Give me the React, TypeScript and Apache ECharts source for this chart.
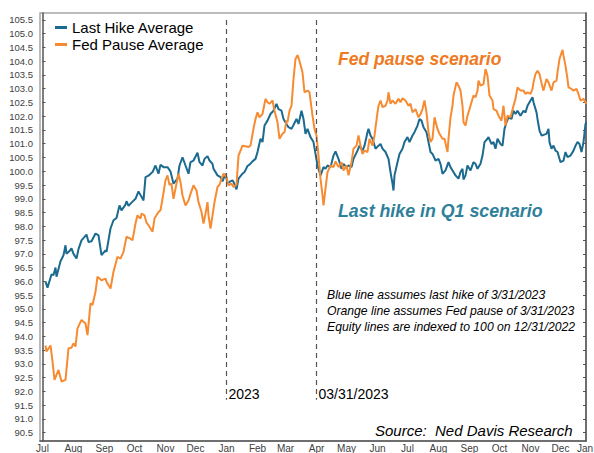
import React, { useEffect, useRef } from 'react';
import * as echarts from 'echarts';

// Day offsets counted from Jul 1 2022 (day 0)
const lastHikeDays = [3,5,9,11,13,14,18,21,23,24,27,29,31,34,36,39,44,46,49,53,56,59,63,64,68,71,74,77,79,83,84,86,89,93,96,99,101,103,106,110,113,116,118,121,125,128,131,135,137,140,143,146,148,151,155,157,160,162,165,167,170,171,175,178,180,183,185,187,190,191,194,196,200,202,205,207,210,213,215,218,220,222,225,228,231,234,236,239,241,244,246,249,251,254,256,259,261,263,265,268,271,273,275,278,281,283,285,288,291,293,296,299,301,304,306,309,311,315,317,320,322,325,326,328,330,333,336,338,340,343,346,348,350,351,352,355,357,360,362,365,367,370,372,375,377,379,381,384,386,388,390,393,396,398,400,403,406,408,410,413,416,418,420,421,423,425,428,431,433,435,438,440,442,445,446,449,451,453,455,458,460,462,464,466,469,471,473,475,478,481,483,485,488,490,491,494,495,497,499,501,504,506,507,509,511,513,515,518,521,523,525,528,531,533,535,537,539,541,543,544];
const lastHikeValues = [96.0,95.77,96.25,96.23,96.5,96.17,96.73,96.95,97.31,97.0,97.1,97.2,97.0,96.83,97.17,97.49,97.7,97.43,97.46,97.74,97.67,96.95,97.13,97.07,97.92,98.22,98.3,98.76,98.58,98.79,98.91,98.74,98.86,99.0,99.27,99.07,98.94,99.79,99.84,99.97,100.21,99.91,100.24,100.15,100.15,99.99,99.55,99.73,100.21,100.51,100.21,99.91,100.33,100.39,100.67,100.33,100.21,100.45,100.55,100.39,100.27,100.09,99.85,99.79,99.63,99.91,99.55,99.61,99.67,99.61,99.34,99.73,99.91,99.97,100.19,100.24,100.36,100.45,100.7,101.18,101.06,101.66,101.84,102.08,102.2,102.45,102.26,102.2,101.9,101.72,101.6,101.54,101.68,101.9,101.72,102.2,101.9,101.36,101.54,101.24,101.06,100.63,100.21,99.85,100.15,100.09,100.21,100.15,100.57,100.72,100.45,100.09,100.27,100.15,100.21,100.15,100.45,100.75,100.93,100.75,100.93,101.42,101.54,101.3,101.18,100.82,100.93,100.99,100.82,100.7,100.45,99.97,99.55,99.3,99.85,100.33,100.63,100.82,101.06,101.24,101.06,101.3,101.42,101.66,101.9,101.84,101.6,101.42,101.06,100.7,100.63,100.39,100.45,100.27,99.91,100.03,100.33,100.15,100.03,99.85,99.73,99.97,100.09,99.7,99.85,100.21,100.03,100.33,100.27,100.09,100.27,100.57,101.06,101.18,101.24,100.99,101.06,100.82,101.18,100.99,100.93,101.54,101.78,101.96,101.9,102.2,102.08,102.2,102.02,102.2,102.14,102.38,102.57,102.69,102.51,102.14,101.9,101.48,101.3,101.32,101.36,101.54,101.06,100.82,100.93,100.75,100.7,100.33,100.39,100.7,100.51,100.57,100.75,100.93,101.06,100.99,100.7,101.06,101.72,101.78];

const fedPauseDays = [3,4,8,10,12,14,16,19,23,26,29,31,33,35,39,43,45,48,50,53,55,59,63,64,68,71,75,78,81,84,88,90,93,95,98,99,102,104,106,110,112,116,118,120,123,125,127,129,131,134,136,138,140,143,146,148,151,154,156,159,161,163,165,166,168,170,172,175,177,179,181,184,186,189,191,194,196,200,203,206,208,211,213,215,217,220,223,225,227,230,232,235,237,240,242,244,245,247,249,251,253,255,257,260,262,265,267,270,272,274,276,278,280,281,283,285,288,291,293,296,299,301,304,306,309,311,314,316,318,320,322,325,327,330,332,335,336,338,340,343,345,346,348,350,353,356,358,360,363,366,368,370,373,376,378,380,382,384,386,388,390,392,395,397,400,402,405,406,408,410,411,414,416,418,420,421,423,425,428,431,433,435,436,438,441,443,445,447,450,451,454,456,459,461,463,465,468,471,473,475,478,481,483,485,488,490,491,493,495,497,500,501,504,506,509,511,514,515,517,520,521,523,525,526,529,531,534,536,538,541,543,544];
const fedPauseValues = [93.67,93.45,93.67,93.09,92.42,92.6,92.78,92.36,92.42,93.57,93.59,93.75,93.63,94.29,94.6,94.47,94.05,95.2,95.14,95.62,96.17,96.04,96.1,95.99,95.74,96.35,96.89,96.83,97.07,97.62,97.55,97.49,98.1,98.4,98.28,98.46,98.4,98.13,98.04,97.8,98.28,98.52,98.58,99.0,99.67,99.85,99.51,99.55,99.0,99.55,99.91,99.61,99.12,98.76,98.94,99.18,99.49,99.3,98.88,98.52,98.1,98.46,98.88,98.4,97.92,98.4,98.88,99.43,99.51,99.73,99.91,99.79,99.49,99.55,99.43,99.51,100.57,100.93,100.91,100.88,100.93,101.55,101.9,102.14,101.96,102.08,102.63,102.51,102.45,102.57,102.2,101.78,101.18,101.36,101.42,101.84,101.78,102.2,102.38,103.35,104.08,104.22,104.01,103.59,102.87,102.93,102.87,102.02,101.54,101.3,100.57,99.73,99.12,98.76,99.37,99.97,100.21,100.15,100.36,100.15,100.33,100.03,100.21,99.85,100.33,100.82,100.93,101.3,100.93,100.63,100.75,100.7,101.18,100.93,101.3,102.14,102.38,102.57,102.33,102.38,102.57,102.87,102.45,102.57,102.45,102.63,102.51,102.65,102.57,102.38,102.45,102.14,102.26,101.96,102.08,102.26,102.57,102.14,101.42,101.06,101.18,101.96,101.54,101.36,101.18,101.18,100.7,101.18,101.96,102.38,102.75,103.23,103.11,102.93,102.38,101.78,101.66,102.02,102.38,102.75,102.69,102.93,103.29,103.11,103.17,103.71,103.47,102.75,102.57,102.26,102.2,102.02,101.84,102.38,101.66,102.02,101.96,102.38,102.63,103.05,102.93,102.93,102.81,102.87,102.81,102.99,103.23,103.53,103.65,103.53,103.05,102.93,103.35,103.23,102.93,103.23,103.29,103.59,104.08,104.41,104.2,103.83,103.35,103.05,102.99,102.93,102.99,102.81,102.57,102.63,102.51,102.45];

const monthTicks = ['2022-07-01','2022-08-01','2022-09-01','2022-10-01','2022-11-01','2022-12-01','2023-01-01','2023-02-01','2023-03-01','2023-04-01','2023-05-01','2023-06-01','2023-07-01','2023-08-01','2023-09-01','2023-10-01','2023-11-01','2023-12-01'];
const monthLabels = ['Jul','Aug','Sep','Oct','Nov','Dec','Jan','Feb','Mar','Apr','May','Jun','Jul','Aug','Sep','Oct','Nov','Dec'];
const yTicks = [90.5,91.0,91.5,92.0,92.5,93.0,93.5,94.0,94.5,95.0,95.5,96.0,96.5,97.0,97.5,98.0,98.5,99.0,99.5,100.0,100.5,101.0,101.5,102.0,102.5,103.0,103.5,104.0,104.5,105.0,105.5];
const markerDates = ['2023-01-01','2023-04-01'];
const markerLabels = ['2023','03/31/2023'];
const noteLines = ['Blue line assumes last hike of 3/31/2023','Orange line assumes Fed pause of 3/31/2023','Equity lines are indexed to 100 on 12/31/2022'];

const BLUE = '#1B6A8F';
const ORANGE = '#F78B32';
const SANS = "'Liberation Sans', Arial, sans-serif";
const NARROW = "'Liberation Sans Narrow', 'Liberation Sans', Arial, sans-serif";

function dateToDay(s: string) {
  const [y, m, d] = s.split('-').map(Number);
  return Math.round((Date.UTC(y, m - 1, d) - Date.UTC(2022, 6, 1)) / 86400000);
}

export default function App() {
  const ref = useRef<HTMLDivElement>(null);
  useEffect(() => {
    document.body.style.margin = '0';
    const chart = echarts.init(ref.current!, null, { renderer: 'svg' });
    const tickDays = monthTicks.map(dateToDay);
    chart.setOption({
      animation: false,
      backgroundColor: '#fff',
      grid: { left: 40, right: 8, top: 13, bottom: 10, show: true, borderColor: '#a6a6a6', borderWidth: 1.5 },
      legend: {
        orient: 'vertical', left: 50, top: 15, itemWidth: 12, itemHeight: 3, itemGap: 2, icon: 'rect',
        textStyle: { fontSize: 15, color: '#000', fontFamily: SANS },
        data: ['Last Hike Average', 'Fed Pause Average'],
      },
      xAxis: {
        type: 'value', min: -2.5, max: 543.5,
        axisLine: { show: true, lineStyle: { color: '#555', width: 1.5 } },
        axisTick: { show: false },
        splitLine: { show: false },
        axisLabel: {
          customValues: tickDays,
          formatter: (v: number) => { const i = tickDays.indexOf(Math.round(v)); return i >= 0 ? monthLabels[i] : ''; },
          fontSize: 10, color: '#404040', fontFamily: NARROW, margin: 2, hideOverlap: false,
        },
      },
      yAxis: [
        {
          type: 'value', min: 90.2, max: 105.75, position: 'left',
          axisLine: { show: true, lineStyle: { color: '#555', width: 1.5 } },
          axisTick: { show: true, inside: true, length: 3, customValues: yTicks, lineStyle: { color: '#555' } },
          axisLabel: { customValues: yTicks, formatter: (v: number) => v.toFixed(1), fontSize: 9.5, color: '#404040', fontFamily: NARROW, margin: 7 },
          splitLine: { show: false },
        },
        {
          type: 'value', min: 90.2, max: 105.75, position: 'right',
          axisLine: { show: true, lineStyle: { color: '#555', width: 1.5 } },
          axisTick: { show: true, inside: true, length: 3, customValues: yTicks, lineStyle: { color: '#555' } },
          axisLabel: { show: false },
          splitLine: { show: false },
        },
      ],
      series: [
        {
          name: 'Last Hike Average', type: 'line', showSymbol: false, symbol: 'none',
          data: lastHikeDays.map((d, i) => [d, lastHikeValues[i]]),
          lineStyle: { width: 2, color: BLUE }, itemStyle: { color: BLUE },
          markLine: {
            silent: true, symbol: ['none', 'none'], label: { show: false },
            lineStyle: { type: [5, 4], color: '#555', width: 1.2 },
            data: markerDates.map((d) => [{ coord: [dateToDay(d), 105.5] }, { coord: [dateToDay(d), 91.7] }]),
          },
          markPoint: {
            symbol: 'circle', symbolSize: 0, silent: true,
            data: markerDates.map((d, i) => ({
              coord: [dateToDay(d), 91.9], value: markerLabels[i],
              label: { show: true, position: 'right', distance: 2, formatter: markerLabels[i], color: '#000', fontSize: 14, fontFamily: SANS },
            })),
          },
        },
        {
          name: 'Fed Pause Average', type: 'line', showSymbol: false, symbol: 'none',
          data: fedPauseDays.map((d, i) => [d, fedPauseValues[i]]),
          lineStyle: { width: 2, color: ORANGE }, itemStyle: { color: ORANGE },
        },
      ],
      graphic: [
        { type: 'text', x: 338, y: 59, style: { text: 'Fed pause scenario', fill: '#EE7A22', font: `italic bold 17.5px ${SANS}`, align: 'left', verticalAlign: 'middle' } },
        { type: 'text', x: 338, y: 211, style: { text: 'Last hike in Q1 scenario', fill: '#2E7F9A', font: `italic bold 17.8px ${SANS}`, align: 'left', verticalAlign: 'middle' } },
        ...noteLines.map((t, i) => ({ type: 'text', x: 327, y: 295 + i * 16, style: { text: t, fill: '#000', font: `italic 12.2px ${SANS}`, align: 'left', verticalAlign: 'middle' } })),
        { type: 'text', x: 375, y: 430, style: { text: 'Source:  Ned Davis Research', fill: '#000', font: `italic 15px ${SANS}`, align: 'left', verticalAlign: 'middle' } },
        { type: 'text', x: 593, y: 448, style: { text: 'Jan', fill: '#404040', font: `10px ${NARROW}`, align: 'right', verticalAlign: 'middle' } },
      ],
    });
    return () => chart.dispose();
  }, []);
  return <div ref={ref} style={{ position: 'fixed', left: 0, top: 0, width: 594, height: 453 }} />;
}
